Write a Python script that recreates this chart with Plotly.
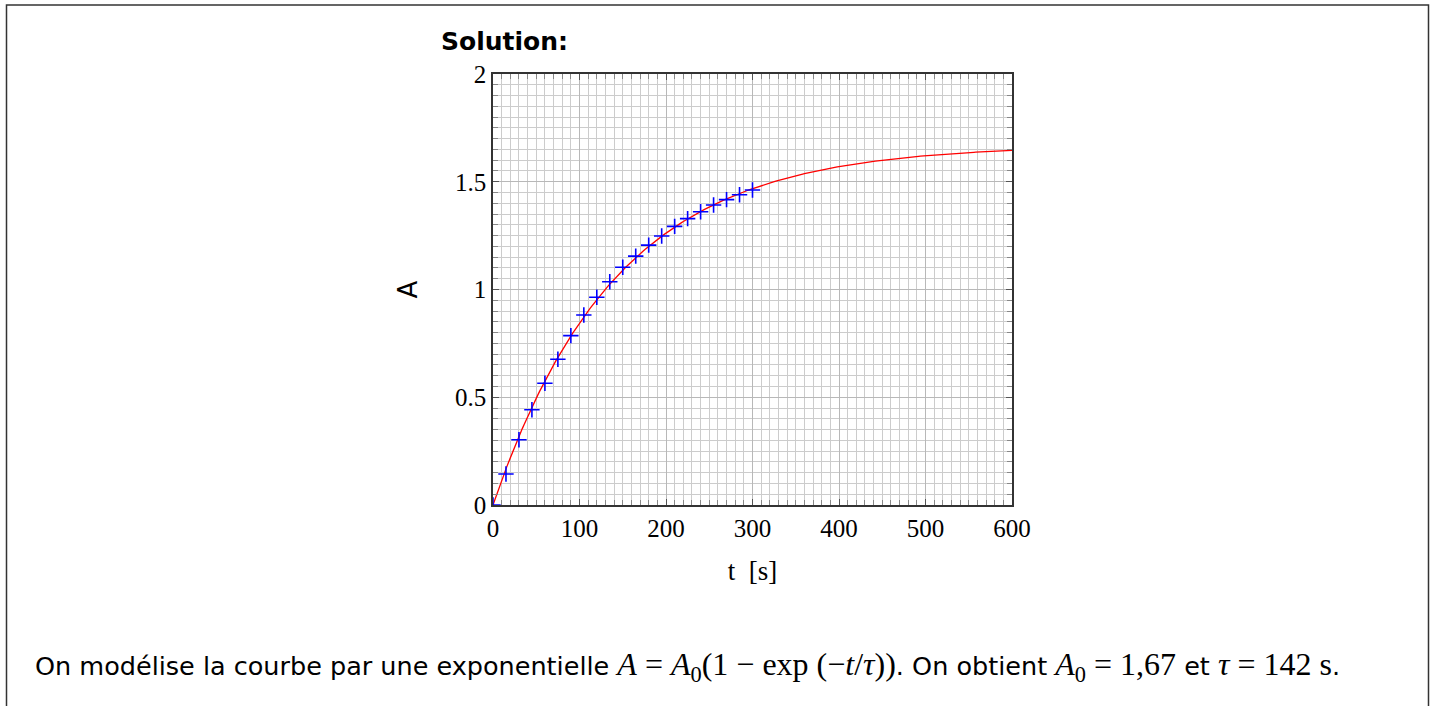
import numpy as np
import plotly.graph_objects as go

t_data = [0, 15, 30, 45, 60, 75, 90, 105, 120, 135, 150, 165, 180, 195, 210,
          225, 240, 255, 270, 285, 300]
A_data = [0.0, 0.144, 0.303, 0.442, 0.565, 0.676, 0.786, 0.882, 0.964, 1.036,
          1.103, 1.155, 1.206, 1.248, 1.293, 1.329, 1.361, 1.392, 1.417, 1.440, 1.462]

# Model parameters stated in the text
A0 = 1.67
tau = 142.0

x_ticks = [0, 100, 200, 300, 400, 500, 600]
y_ticks = [0, 0.5, 1, 1.5, 2]
y_tick_text = ["0", "0.5", "1", "1.5", "2"]

t_model = np.linspace(0, 600, 301)
A_model = A0 * (1 - np.exp(-t_model / tau))

W, H = 1436, 706
L, R, T, B = 493, 1012, 74, 505

def px_x(p):
    return (p - L) / (R - L)

def px_y(p):
    return (B - p) / (B - T)

fig = go.Figure()
fig.add_trace(go.Scatter(x=t_model, y=A_model, mode="lines",
                         line=dict(color="#ff0000", width=1.3),
                         hoverinfo="skip", showlegend=False))
fig.add_trace(go.Scatter(x=t_data, y=A_data, mode="markers",
                         marker=dict(symbol="cross-thin", size=11,
                                     line=dict(color="#0000ff", width=1.6)),
                         showlegend=False))

serif = "Liberation Serif, DejaVu Serif, serif"
sans = "DejaVu Sans, sans-serif"

axis_common = dict(
    showline=True, linecolor="#333333", linewidth=1.5, mirror="allticks",
    ticks="inside", ticklen=6, tickwidth=1.2, tickcolor="#555555",
    showgrid=True, gridcolor="#b8b8b8", gridwidth=1,
    zeroline=False,
    tickfont=dict(family=serif, size=25, color="#000000"),
)

fig.update_layout(
    width=W, height=H,
    margin=dict(l=L, r=W - R, t=T, b=H - B),
    paper_bgcolor="white", plot_bgcolor="white",
    xaxis=dict(range=[0, 600], tickvals=x_ticks, ticktext=[str(v) for v in x_ticks],
               minor=dict(dtick=10, tick0=0, ticks="inside", ticklen=5, tickcolor="#888888",
                          showgrid=True, gridcolor="#cccccc", gridwidth=1),
               title=dict(text="t  [s]", font=dict(family=serif, size=27, color="#000"),
                          standoff=20),
               **axis_common),
    yaxis=dict(range=[0, 2], tickvals=y_ticks, ticktext=y_tick_text,
               minor=dict(dtick=0.05, tick0=0, ticks="inside", ticklen=5, tickcolor="#888888",
                          showgrid=True, gridcolor="#cccccc", gridwidth=1),
               title=dict(text="A", font=dict(family=sans, size=26, color="#000"),
                          standoff=30),
               **axis_common),
)

# Title "Solution:"
fig.add_annotation(xref="paper", yref="paper", x=px_x(439), y=px_y(41),
                   xanchor="left", yanchor="middle", showarrow=False,
                   text="<b>Solution:</b>",
                   font=dict(family=sans, size=25, color="#000"))

# Bottom text
mi = "font-family:'Liberation Serif';font-size:32px"
txt = ("On modélise la courbe par une exponentielle "
       f"<span style=\"{mi}\"><i>A</i> = <i>A</i><sub>0</sub>(1 − exp (−<i>t</i>/<i>τ</i>))</span>. "
       "On obtient "
       f"<span style=\"{mi}\"><i>A</i><sub>0</sub> = 1,67</span> et "
       f"<span style=\"{mi}\"><i>τ</i> = 142 s</span>.")
fig.add_annotation(xref="paper", yref="paper", x=px_x(33), y=px_y(666),
                   xanchor="left", yanchor="middle", showarrow=False,
                   text=txt, font=dict(family="DejaVu Sans, sans-serif",
                                       size=25.5, color="#000"))

# Outer frame
fig.add_shape(type="rect", xref="paper", yref="paper",
              x0=px_x(6.5), x1=px_x(1428.5), y0=px_y(720), y1=px_y(5),
              line=dict(color="#333333", width=1.5), fillcolor="rgba(0,0,0,0)",
              layer="above")

fig.write_html("out.html")
